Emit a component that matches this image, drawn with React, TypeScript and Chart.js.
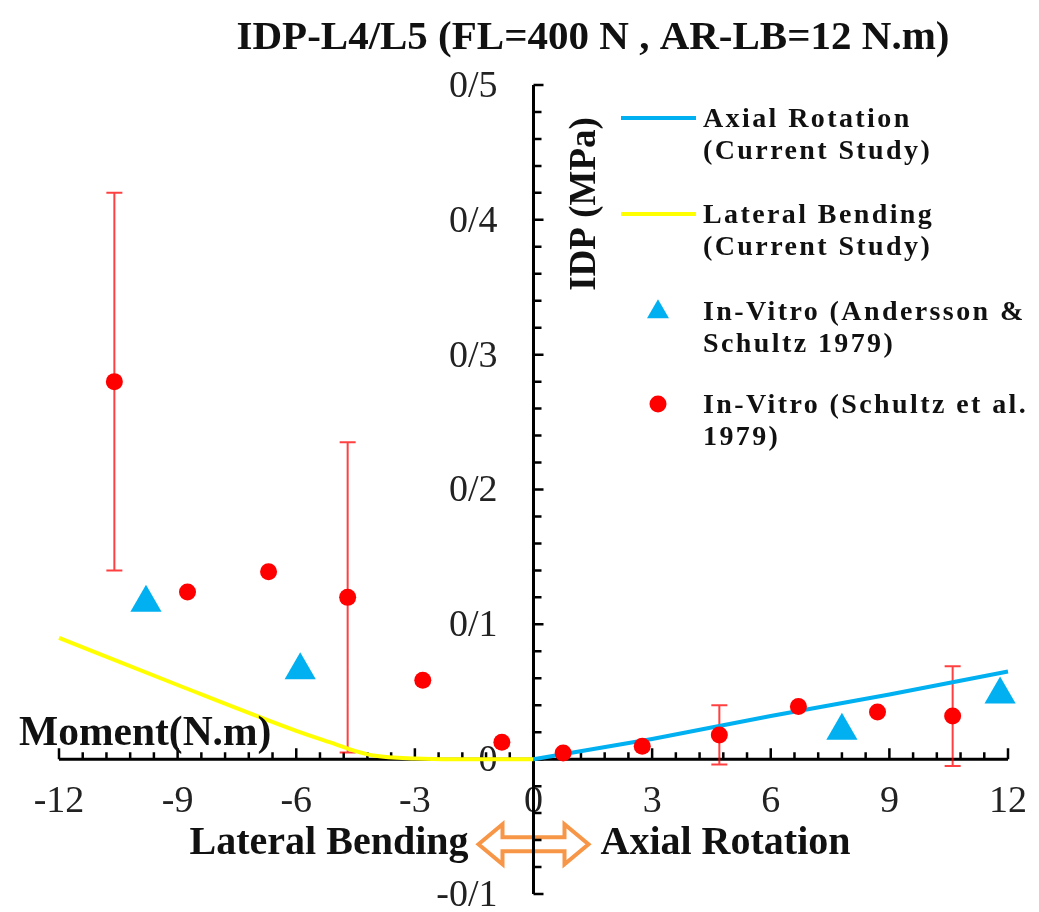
import React, { useEffect, useRef } from 'react';
import { Chart, registerables } from 'chart.js';

Chart.register(...registerables);

// ---------- data ----------
const X_TICKS = [-12, -9, -6, -3, 0, 3, 6, 9, 12];
const X_TICK_LABELS = ['-12', '-9', '-6', '-3', '0', '3', '6', '9', '12'];
const Y_TICKS = [-0.1, 0, 0.1, 0.2, 0.3, 0.4, 0.5];
const Y_TICK_LABELS = ['-0/1', '0', '0/1', '0/2', '0/3', '0/4', '0/5'];

const AXIAL_X = [0, 3, 6, 9, 12];
const AXIAL_Y = [0, 0.015, 0.032, 0.048, 0.065];

const LATERAL_X = [-12, -9, -6, -5, -4.5, -4, -3, -2, -1, 0];
const LATERAL_Y = [0.09, 0.055, 0.021, 0.011, 0.006, 0.0025, 0.0005, 0, 0, 0];

const ANDERSSON_X = [-9.8, -5.9, 7.8, 11.8];
const ANDERSSON_Y = [0.116, 0.066, 0.021, 0.048];

const SCHULTZ_X = [-10.6, -8.75, -6.7, -4.7, -2.8, -0.8, 0.75, 2.75, 4.7, 6.7, 8.7, 10.6];
const SCHULTZ_Y = [0.28, 0.124, 0.139, 0.12, 0.0585, 0.0125, 0.0045, 0.0095, 0.018, 0.039, 0.035, 0.032];
const SCHULTZ_ERR = [0.14, 0, 0, 0.115, 0, 0, 0, 0, 0.022, 0, 0, 0.037];

const TITLE = 'IDP-L4/L5 (FL=400 N , AR-LB=12 N.m)';
const Y_TITLE = 'IDP (MPa)';
const X_TITLE = 'Moment(N.m)';
const LEFT_LABEL = 'Lateral Bending';
const RIGHT_LABEL = 'Axial Rotation';
const LEGEND_LINES = [
  ['Axial Rotation', '(Current Study)'],
  ['Lateral Bending', '(Current Study)'],
  ['In-Vitro (Andersson &', 'Schultz 1979)'],
  ['In-Vitro (Schultz et al.', '1979)'],
];

const X_MIN = -12, X_MAX = 12, Y_MIN = -0.1, Y_MAX = 0.5;
const X_MINOR = 0.6, Y_MINOR = 0.02;

const BLUE = '#00B0F0';
const YELLOW = '#FFFF00';
const RED = '#FF0000';
const ORANGE = '#F79646';
const SERIF = '"Liberation Serif", "Times New Roman", serif';

function tri(ctx: CanvasRenderingContext2D, cx: number, cy: number, r: number) {
  ctx.beginPath();
  for (let k = 0; k < 3; k++) {
    const a = (k * 2 * Math.PI) / 3;
    const px = cx + Math.sin(a) * r;
    const py = cy - Math.cos(a) * r;
    if (k === 0) ctx.moveTo(px, py); else ctx.lineTo(px, py);
  }
  ctx.closePath();
  ctx.fill();
}

const decorPlugin = {
  id: 'decor',
  beforeDatasetsDraw(chart: any) {
    const { ctx } = chart;
    const xs = chart.scales.x, ys = chart.scales.y;
    const x0 = xs.getPixelForValue(0);
    const y0 = ys.getPixelForValue(0);
    ctx.save();

    // double arrow + side labels
    const ay = y0 + 85;
    ctx.beginPath();
    const L = x0 - 55, R = x0 + 55, hl = 24, sh = 7, hh = 20;
    ctx.moveTo(L, ay);
    ctx.lineTo(L + hl, ay - hh);
    ctx.lineTo(L + hl, ay - sh);
    ctx.lineTo(R - hl, ay - sh);
    ctx.lineTo(R - hl, ay - hh);
    ctx.lineTo(R, ay);
    ctx.lineTo(R - hl, ay + hh);
    ctx.lineTo(R - hl, ay + sh);
    ctx.lineTo(L + hl, ay + sh);
    ctx.lineTo(L + hl, ay + hh);
    ctx.closePath();
    ctx.fillStyle = '#fff';
    ctx.fill();
    ctx.strokeStyle = ORANGE;
    ctx.lineWidth = 4;
    ctx.lineJoin = 'miter';
    ctx.stroke();

    ctx.fillStyle = '#111';
    ctx.font = `bold 40px ${SERIF}`;
    ctx.textBaseline = 'middle';
    ctx.textAlign = 'right';
    ctx.fillText(LEFT_LABEL, L - 10, ay);
    ctx.textAlign = 'left';
    ctx.fillText(RIGHT_LABEL, R + 12, ay);

    // tick labels
    ctx.font = `38px ${SERIF}`;
    ctx.fillStyle = '#222';
    ctx.textAlign = 'center';
    X_TICKS.forEach((v, i) => {
      ctx.fillText(X_TICK_LABELS[i], xs.getPixelForValue(v), y0 + 43);
    });
    ctx.textAlign = 'right';
    Y_TICKS.forEach((v, i) => {
      ctx.fillText(Y_TICK_LABELS[i], x0 - 36, ys.getPixelForValue(v) + 2);
    });

    // axes
    ctx.strokeStyle = '#000';
    ctx.lineWidth = 3;
    ctx.lineCap = 'butt';
    ctx.beginPath();
    ctx.moveTo(xs.getPixelForValue(X_MIN), y0);
    ctx.lineTo(xs.getPixelForValue(X_MAX), y0);
    ctx.moveTo(x0, ys.getPixelForValue(Y_MIN));
    ctx.lineTo(x0, ys.getPixelForValue(Y_MAX));
    ctx.stroke();
    ctx.lineWidth = 2.5;
    ctx.beginPath();
    const nx = Math.round((X_MAX - X_MIN) / X_MINOR);
    for (let i = 0; i <= nx; i++) {
      const px = xs.getPixelForValue(X_MIN + i * X_MINOR);
      const len = i % 5 === 0 ? 11 : 7;
      ctx.moveTo(px, y0);
      ctx.lineTo(px, y0 - len);
    }
    const ny = Math.round((Y_MAX - Y_MIN) / Y_MINOR);
    for (let i = 0; i <= ny; i++) {
      const py = ys.getPixelForValue(Y_MIN + i * Y_MINOR);
      const len = i % 5 === 0 ? 10 : 8;
      ctx.moveTo(x0, py);
      ctx.lineTo(x0 + len, py);
    }
    ctx.stroke();

    // error bars
    ctx.strokeStyle = 'rgba(255,0,0,0.75)';
    ctx.lineWidth = 2;
    ctx.beginPath();
    SCHULTZ_X.forEach((v, i) => {
      const e = SCHULTZ_ERR[i];
      if (!e) return;
      const px = xs.getPixelForValue(v);
      const top = ys.getPixelForValue(SCHULTZ_Y[i] + e);
      const bot = ys.getPixelForValue(SCHULTZ_Y[i] - e);
      ctx.moveTo(px, top); ctx.lineTo(px, bot);
      ctx.moveTo(px - 8, top); ctx.lineTo(px + 8, top);
      ctx.moveTo(px - 8, bot); ctx.lineTo(px + 8, bot);
    });
    ctx.stroke();
    ctx.restore();
  },
  afterDraw(chart: any) {
    const { ctx } = chart;
    const xs = chart.scales.x, ys = chart.scales.y;
    const x0 = xs.getPixelForValue(0);
    const y0 = ys.getPixelForValue(0);
    ctx.save();
    ctx.fillStyle = '#111';
    ctx.textBaseline = 'middle';

    // title
    ctx.font = `bold 41px ${SERIF}`;
    ctx.textAlign = 'center';
    ctx.fillText(TITLE, 593, 38);

    // x title
    ctx.textAlign = 'left';
    ctx.font = `bold 41.5px ${SERIF}`;
    ctx.fillText(X_TITLE, 19, y0 - 25);

    // y title
    ctx.save();
    ctx.translate(x0 + 52, 204);
    ctx.rotate(-Math.PI / 2);
    ctx.textAlign = 'center';
    ctx.font = `bold 37px ${SERIF}`;
    ctx.fillText(Y_TITLE, 0, 0);
    ctx.restore();

    // legend
    const ds = chart.data.datasets;
    const rows = [118, 214, 311, 404];
    ctx.font = `bold 28px ${SERIF}`;
    (ctx as any).letterSpacing = '2.4px';
    ctx.textAlign = 'left';
    rows.forEach((ry, i) => {
      const d = ds[i];
      if (d.showLine) {
        ctx.strokeStyle = d.borderColor;
        ctx.lineWidth = 4;
        ctx.beginPath();
        ctx.moveTo(621, ry);
        ctx.lineTo(696, ry);
        ctx.stroke();
      } else if (d.pointStyle === 'triangle') {
        ctx.fillStyle = d.backgroundColor;
        tri(ctx, 658, ry + 1, 12.7);
      } else {
        ctx.fillStyle = d.backgroundColor;
        ctx.beginPath();
        ctx.arc(658, ry, 8.5, 0, Math.PI * 2);
        ctx.fill();
      }
      ctx.fillStyle = '#111';
      ctx.fillText(LEGEND_LINES[i][0], 703, ry + 2);
      ctx.fillText(LEGEND_LINES[i][1], 703, ry + 34);
    });
    ctx.restore();
  },
};

export default function App() {
  const ref = useRef<HTMLCanvasElement | null>(null);
  useEffect(() => {
    const canvas = ref.current!;
    const chart = new Chart(canvas, {
      type: 'scatter',
      data: {
        datasets: [
          {
            label: 'Axial Rotation (Current Study)',
            data: AXIAL_X.map((x, i) => ({ x, y: AXIAL_Y[i] })),
            showLine: true,
            borderColor: BLUE,
            backgroundColor: BLUE,
            borderWidth: 4,
            pointRadius: 0,
            order: 4,
            clip: false,
          },
          {
            label: 'Lateral Bending (Current Study)',
            data: LATERAL_X.map((x, i) => ({ x, y: LATERAL_Y[i] })),
            showLine: true,
            borderColor: YELLOW,
            backgroundColor: YELLOW,
            borderWidth: 4,
            pointRadius: 0,
            cubicInterpolationMode: 'monotone',
            order: 3,
            clip: false,
          },
          {
            label: 'In-Vitro (Andersson & Schultz 1979)',
            data: ANDERSSON_X.map((x, i) => ({ x, y: ANDERSSON_Y[i] })),
            pointStyle: 'triangle',
            pointRadius: 18,
            backgroundColor: BLUE,
            borderColor: BLUE,
            borderWidth: 0,
            order: 2,
            clip: false,
          },
          {
            label: 'In-Vitro (Schultz et al. 1979)',
            data: SCHULTZ_X.map((x, i) => ({ x, y: SCHULTZ_Y[i] })),
            pointStyle: 'circle',
            pointRadius: 8.5,
            backgroundColor: RED,
            borderColor: RED,
            borderWidth: 0,
            order: 1,
            clip: false,
          },
        ],
      },
      options: {
        animation: false,
        responsive: false,
        devicePixelRatio: 1,
        layout: { padding: { left: 59, right: 31, top: 85, bottom: 17 } },
        plugins: { legend: { display: false }, tooltip: { enabled: false }, title: { display: false } },
        scales: {
          x: { type: 'linear', min: X_MIN, max: X_MAX, display: false },
          y: { type: 'linear', min: Y_MIN, max: Y_MAX, display: false },
        },
      },
      plugins: [decorPlugin],
    } as any);
    return () => chart.destroy();
  }, []);
  return (
    <div style={{ position: 'fixed', left: 0, top: 0, width: 1039, height: 912, background: '#fff' }}>
      <canvas ref={ref} width={1039} height={912} style={{ width: 1039, height: 912, display: 'block' }} />
    </div>
  );
}
